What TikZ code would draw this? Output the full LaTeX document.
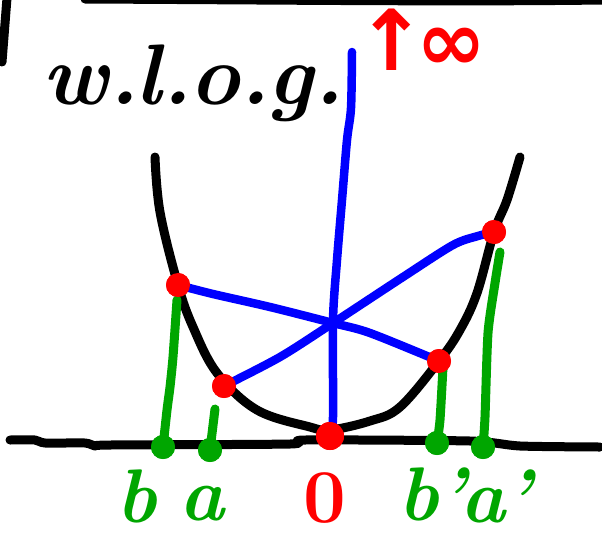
\documentclass[tikz,border=0pt]{standalone}
\usepackage{fontspec}
\usepackage{graphicx}
\newfontfamily\symfont{DejaVu Sans}
\definecolor{hblue}{RGB}{0,0,255}
\definecolor{hred}{RGB}{255,0,0}
\definecolor{hgreen}{RGB}{0,166,0}
\begin{document}
\begin{tikzpicture}[x=1pt,y=-1pt,line cap=round,line join=round,
  blackpen/.style={line width=9pt,black},
  bluepen/.style={line width=8.5pt,hblue},
  greenpen/.style={line width=9pt,hgreen},
  reddot/.style={circle,fill=hred,inner sep=0pt,minimum size=24pt},
  greendot/.style={circle,fill=hgreen,inner sep=0pt,minimum size=24pt},
  lbl/.style={inner sep=0pt,anchor=base,font=\fontsize{76}{76}\selectfont\bfseries\itshape},
  hand/.style={inner sep=0pt,font=\fontsize{86}{86}\selectfont\bfseries\itshape}]
\useasboundingbox (0,0) rectangle (602,539);
\fill[white] (0,0) rectangle (602,539);
% frame fragments
\coordinate (tl1) at (85,-1);
\coordinate (tl2) at (602,0);
\draw[blackpen] (tl1) .. controls (300,0) and (450,2) .. (tl2);
\coordinate (lv1) at (7,-2);
\coordinate (lv2) at (2,62);
\draw[blackpen] (lv1) -- (lv2);
% title
\node[hand,anchor=base west] (wlog) at (42,104) {w.\kern-3pt l.\kern-3pt o.\kern-3pt g.};
% infinity mark
\node[inner sep=0pt,text=hred,anchor=base west] (inf) at (356,70) {\symfont\bfseries\fontsize{84}{84}\selectfont ↑\kern-10pt∞};
% axis
\coordinate (ax1) at (10,440);
\coordinate (ax2) at (600,447);
\draw[blackpen] plot[smooth,tension=0.4] coordinates {(ax1) (35,440) (45,443) (85,443) (95,446) (110,445) (290,444) (305,440) (470,441) (520,446) (ax2)};
% points
\node[reddot] (P) at (178,285) {};
\node[reddot] (Q) at (224,386) {};
\node[reddot] (R) at (439,361) {};
\node[reddot] (S) at (494,232) {};
\node[reddot,minimum size=28pt] (O) at (330,436) {};
\node[greendot] (gb) at (163,447) {};
\node[greendot] (ga) at (210,450) {};
\node[greendot] (gbp) at (437,443) {};
\node[greendot] (gap) at (483,447) {};
% parabola
\coordinate (c1) at (155,157);
\coordinate (c2) at (520,157);
\draw[blackpen] plot[smooth,tension=0.6] coordinates {(c1) (160,212) (178,285) (193,327) (217,373) (257,410) (310,427) (330,430) (370,421) (400,407) (439,361) (460,330) (477,293) (494,232) (507,200) (c2)};
% blue lines
\coordinate (X) at (333,323);
\coordinate (btop) at (352,52);
\draw[bluepen] plot[smooth,tension=0.5] coordinates {(btop) (351,108) (347,140) (342,200) (337,260) (333,320) (333,417) (O.center)};
\draw[bluepen] plot[smooth,tension=0.5] coordinates {(P.center) (213,294) (270,307) (X) (370,333) (R.center)};
\draw[bluepen] plot[smooth,tension=0.5] coordinates {(Q.center) (280,357) (X) (403,277) (453,245) (478,236) (S.center)};
% green lines
\coordinate (g1t) at (177,300);
\draw[greenpen] plot[smooth,tension=0.4] coordinates {(g1t) (173,357) (170,387) (167,410) (gb.center)};
\coordinate (g2t) at (215,409);
\draw[greenpen] (g2t) -- (ga.center);
\coordinate (g3t) at (443,367);
\draw[greenpen] plot[smooth,tension=0.4] coordinates {(g3t) (440,420) (gbp.center)};
\coordinate (g4t) at (500,252);
\draw[greenpen] plot[smooth,tension=0.4] coordinates {(g4t) (495,283) (488,333) (485,417) (gap.center)};
% dots on top
\fill[hred] (P) circle (12);
\fill[hred] (Q) circle (12);
\fill[hred] (R) circle (12);
\fill[hred] (S) circle (12);
\fill[hred] (O) circle (14);
\fill[hgreen] (gb) circle (12);
\fill[hgreen] (ga) circle (12);
\fill[hgreen] (gbp) circle (12);
\fill[hgreen] (gap) circle (12);
% labels
\node[lbl,text=hgreen] (lb) at (137,522) {b};
\node[lbl,text=hgreen] (la) at (202,520) {a};
\node[lbl,text=hred,font=\fontsize{76}{76}\selectfont\bfseries] (l0) at (325,522) {0};
\node[lbl,text=hgreen] (lbp) at (432,520) {b'};
\node[lbl,text=hgreen] (lap) at (496,522) {a'};
\end{tikzpicture}
\end{document}
